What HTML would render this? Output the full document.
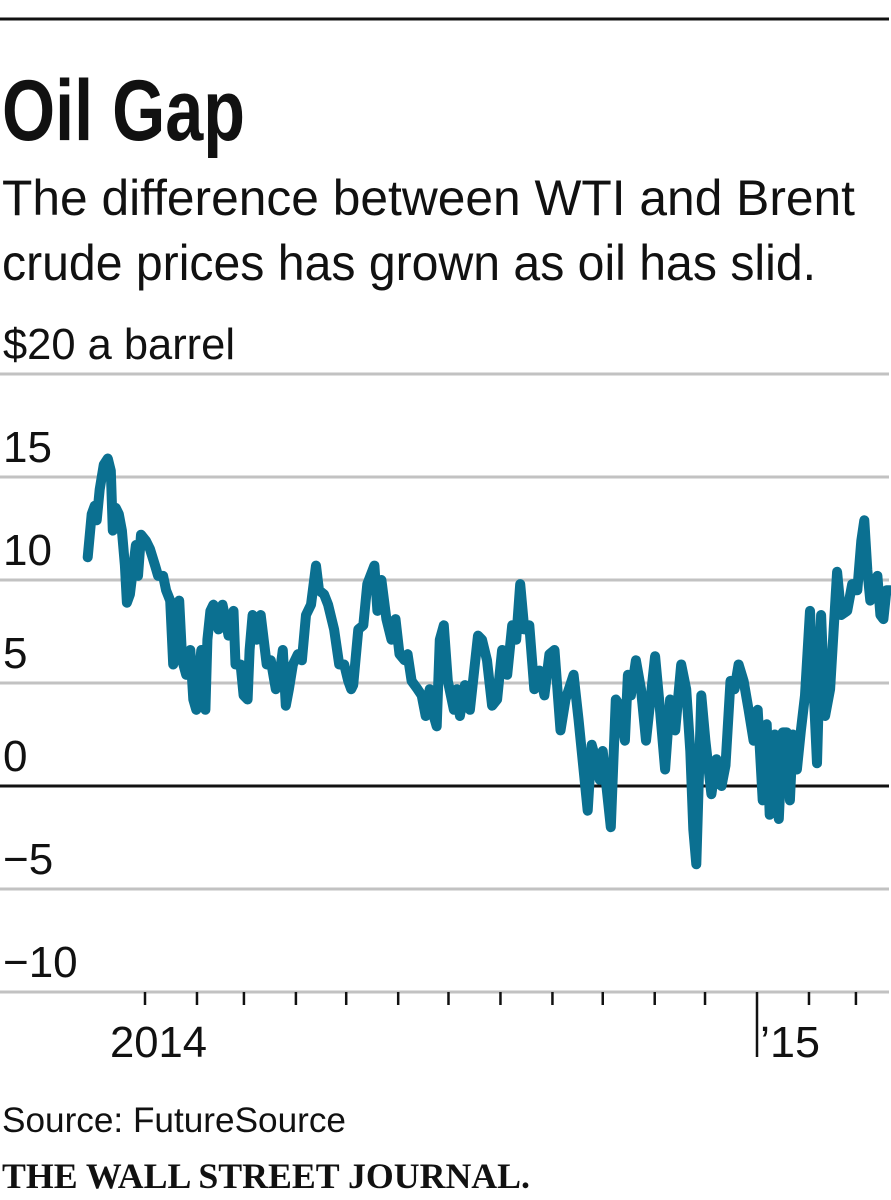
<!DOCTYPE html>
<html><head><meta charset="utf-8"><style>
html,body{margin:0;padding:0;background:#fff;width:891px;height:1200px;overflow:hidden}
svg{display:block}
text{font-family:"Liberation Sans",sans-serif;fill:#111}
</style></head><body>
<svg id="chart" width="891" height="1200">
<line x1="0" y1="19" x2="889" y2="19" stroke="#111" stroke-width="3"/>
<text x="2" y="140" font-size="86" font-weight="bold" textLength="243" lengthAdjust="spacingAndGlyphs">Oil Gap</text>
<text x="2" y="215" font-size="50" textLength="853" lengthAdjust="spacingAndGlyphs">The difference between WTI and Brent</text>
<text x="2" y="280" font-size="50" textLength="814" lengthAdjust="spacingAndGlyphs">crude prices has grown as oil has slid.</text>
<g id="grid"></g>
<g id="yticks"></g>
<g id="xticks"></g>
<path id="series" fill="none" stroke="#0b7091" stroke-width="10" stroke-linejoin="round" stroke-linecap="round"/>
<text x="2" y="1132" font-size="35" textLength="344" lengthAdjust="spacingAndGlyphs">Source: FutureSource</text>
<text x="2" y="1188" font-size="36" font-weight="bold" style="font-family:'Liberation Serif',serif" textLength="528" lengthAdjust="spacingAndGlyphs">THE WALL STREET JOURNAL.</text>
</svg>
<script>
const yTickValues = [20, 15, 10, 5, 0, -5, -10];
const yTickLabels = ["$20 a barrel", "15", "10", "5", "0", "\u22125", "\u221210"];
const monthStartDays = [0,31,59,90,120,151,181,212,243,273,304,334,365,396,424];
const yearLabels = ["2014", "\u201915"];
const yearDays = [0, 365];
const days = [-34.2,-31.8,-30,-28.8,-27,-24.6,-22.2,-20.4,-19.2,-17.4,-15.6,-13.8,-12,-10.8,-9,-7.2,-5.4,-4.2,-2.4,0.6,3,6,7.8,10.8,12.6,15,16.8,18.6,20.4,22.2,24.6,27,28.8,30.6,31.8,33.6,36,37.2,39,40.8,43.8,46.2,48,49.8,52.8,54,57,58.8,61.2,62.4,64.2,66.6,69,70.8,72.6,75,78,79.8,82.2,84,85.8,88.2,91.2,93.6,96,99,102,103.8,106.8,109.2,112.8,115.8,118.8,121.2,123,124.2,127.2,130.2,132.6,136.8,138.6,141,144,147,149.4,151.8,154.8,156.6,159,162.6,165,167.4,169.8,172.2,174,175.8,178.2,180.6,184.2,186,187.8,190.8,193.8,198.6,201,204,207,210,213,216,219,221.4,223.8,226.2,229.2,232.2,235.2,238.2,241.2,244.2,247.8,250.8,255.6,258.6,264,266.4,268.8,271.2,273,277.8,280.8,283.2,286.2,288,289.8,292.8,295.8,298.8,304.2,306.6,310.2,313.2,316.2,319.8,322.8,325.2,327,328.8,331.8,334.2,337.8,340.8,343.8,346.2,349.2,351.6,354,357,360,363,365.4,368.4,370.8,372.6,375.6,378,380.4,382.8,384.6,386.4,388.8,391.2,393.6,396.6,400.8,403.2,405.6,408.6,412.8,415.2,418.8,421.8,424.8,427.2,429,430.8,432.6,434.4,436.8,438.6,440.4,442.2,444.6];
const spreads = [11.1,13.2,13.6,12.9,14.4,15.6,15.9,15.3,12.4,13.5,13.2,12.4,10.7,8.9,9.3,10.5,11.7,10.2,12.2,11.9,11.5,10.7,10.2,10.2,9.5,9.0,5.9,7.1,9.0,6.1,5.4,6.6,4.2,3.7,5.1,6.6,3.7,7.1,8.5,8.8,7.6,8.8,8.1,7.3,8.5,5.9,5.9,4.4,4.2,6.6,8.3,7.1,8.3,7.1,5.9,6.1,4.7,5.1,6.6,3.9,4.7,5.9,6.4,6.1,8.3,8.8,10.7,9.5,9.3,8.8,7.6,5.9,5.9,5.1,4.7,4.9,7.6,7.8,9.8,10.7,8.5,10.0,8.1,7.1,8.1,6.4,6.1,6.4,5.1,4.7,4.4,3.4,4.7,3.4,2.9,7.1,7.8,5.1,3.7,4.7,3.4,4.9,3.7,7.3,7.1,6.1,3.9,4.2,6.6,5.4,7.8,7.1,9.8,7.6,7.8,4.7,5.6,4.4,6.4,6.6,2.7,4.2,5.4,3.2,-1.2,2.0,1.3,0.3,1.7,-2.0,4.2,3.9,2.2,5.4,4.4,6.1,4.7,2.2,6.3,4.2,0.8,4.2,2.7,5.9,4.7,1.7,-2.1,-3.8,4.4,2.2,-0.4,1.3,0.0,1.0,5.1,4.7,5.9,5.1,3.7,2.2,3.7,-0.7,3.0,-1.4,2.5,-1.6,2.6,2.6,-0.7,2.5,0.8,2.7,4.4,8.5,1.1,8.3,3.4,4.7,10.4,8.3,8.5,9.8,9.5,11.9,12.9,10.5,9.0,9.8,10.2,8.3,8.1,9.5,9.5];

const NS = "http://www.w3.org/2000/svg";
const xScale = d => 145 + d * (612 / 365);
const yScale = v => 786 - v * 20.6;

const grid = document.getElementById('grid');
const yt = document.getElementById('yticks');
yTickValues.forEach((v, i) => {
  const ln = document.createElementNS(NS, 'line');
  ln.setAttribute('x1', 0); ln.setAttribute('x2', 889);
  ln.setAttribute('y1', yScale(v)); ln.setAttribute('y2', yScale(v));
  ln.setAttribute('stroke', v === 0 ? '#111' : '#c2c2c2');
  ln.setAttribute('stroke-width', 3);
  
  
  grid.appendChild(ln);
  const t = document.createElementNS(NS, 'text');
  t.setAttribute('x', 3);
  t.setAttribute('y', yScale(v) - 15);
  t.setAttribute('font-size', 44);
  if (i === 0) { t.setAttribute('textLength', 232); t.setAttribute('lengthAdjust', 'spacingAndGlyphs'); }
  t.textContent = yTickLabels[i];
  
  
  yt.appendChild(t);
});

const xt = document.getElementById('xticks');
monthStartDays.forEach(d => {
  const big = d === 365;
  const ln = document.createElementNS(NS, 'line');
  ln.setAttribute('x1', xScale(d)); ln.setAttribute('x2', xScale(d));
  ln.setAttribute('y1', 992); ln.setAttribute('y2', big ? 1057 : 1005);
  ln.setAttribute('stroke', '#111'); ln.setAttribute('stroke-width', 2.5);
  
  
  xt.appendChild(ln);
});
yearDays.forEach((d, i) => {
  const t = document.createElementNS(NS, 'text');
  t.setAttribute('x', i === 0 ? xScale(d) - 35 : xScale(d) + 3);
  t.setAttribute('y', 1057);
  t.setAttribute('font-size', 44);
  t.setAttribute('textLength', i === 0 ? 97 : 60);
  t.setAttribute('lengthAdjust', 'spacingAndGlyphs');
  t.textContent = yearLabels[i];
  
  
  xt.appendChild(t);
});

document.getElementById('series').setAttribute('d',
  days.map((d, i) => (i ? 'L' : 'M') + xScale(d).toFixed(1) + ',' + yScale(spreads[i]).toFixed(1)).join(''));
</script>
</body></html>
